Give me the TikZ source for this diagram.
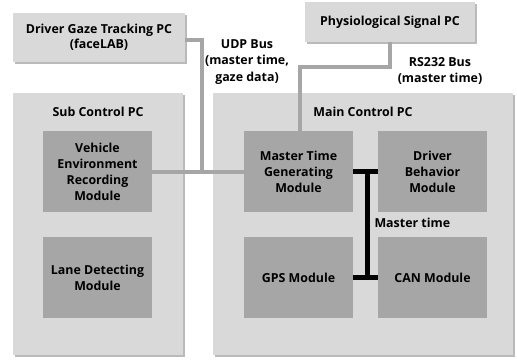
\documentclass[tikz,border=0pt]{standalone}
\usepackage{fontspec}
\setmainfont{Open Sans}
\usetikzlibrary{shadows}
\definecolor{pcfill}{HTML}{D9D9D9}
\definecolor{modfill}{HTML}{A6A6A6}
\definecolor{busgray}{HTML}{A6A6A6}
\tikzset{
  pcbox/.style={fill=pcfill, draw=none, drop shadow={shadow xshift=1.5pt, shadow yshift=-1.5pt, fill=black!45, opacity=0.6}},
  modbox/.style={fill=modfill, draw=none, minimum width=109pt, minimum height=81pt, align=center, font=\fontsize{12.4}{16}\selectfont\bfseries},
  txt/.style={align=center, font=\fontsize{12.4}{16.5}\selectfont\bfseries},
  graybus/.style={draw=busgray, line width=4pt},
  blackbus/.style={draw=black, line width=5pt},
}
\begin{document}
\begin{tikzpicture}[x=1pt,y=-1pt]
\useasboundingbox (0,0) rectangle (517,359);

% outer computers
\node[pcbox, minimum width=172pt, minimum height=49pt, txt] (dg) at (99,37.5) {Driver Gaze Tracking PC\\[-2pt](faceLAB)};
\node[pcbox, minimum width=170pt, minimum height=40pt, txt] (ps) at (390,22) {Physiological Signal PC};
\node[pcbox, minimum width=170pt, minimum height=262pt, anchor=north west] (sub) at (13,93) {};
\node[pcbox, minimum width=300pt, minimum height=262pt, anchor=north west] (main) at (213,93) {};
\node[txt] (subt) at (98,112) {Sub Control PC};
\node[txt] (maint) at (363,112) {Main Control PC};

% modules
\node[modbox] (ver) at (97.5,171.5) {Vehicle\\Environment\\Recording\\Module};
\node[modbox] (lane) at (97.5,277.5) {Lane Detecting\\Module};
\node[modbox] (mtg) at (298.5,171.5) {Master Time\\Generating\\Module};
\node[modbox] (dbm) at (432.5,171.5) {Driver\\Behavior\\Module};
\node[modbox] (gps) at (298.5,277.5) {GPS Module};
\node[modbox] (can) at (432.5,277.5) {CAN Module};

% UDP bus
\coordinate (udp) at (202,171.5);
\draw[graybus] (ver.east) -- (mtg.west);
\draw[graybus] (dg.east |- 0,40) -| (udp);
% RS232 bus
\coordinate (rsbend) at (300,67);
\draw[graybus] (ps.south -| 390,0) |- (rsbend) -- (rsbend |- mtg.north);

% master time bus
\coordinate (mt) at (367,171.5);
\draw[blackbus] (mtg.east) -- (dbm.west);
\draw[blackbus] (mt) -- (mt |- gps.east);
\draw[blackbus] (gps.east) -- (can.west);

% bus labels
\node[txt] (udpl) at (247,62) {UDP Bus\\(master time,\\gaze data)};
\node[txt] (rsl) at (440,71) {RS232 Bus\\(master time)};
\node[txt, anchor=west] (mtl) at (371,223) {Master time};
\end{tikzpicture}
\end{document}
